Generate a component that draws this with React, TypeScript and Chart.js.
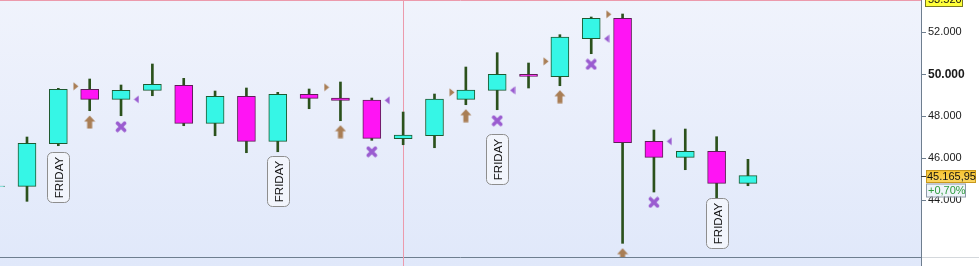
import React, { useEffect, useRef } from 'react';
import { Chart, registerables } from 'chart.js';

Chart.register(...registerables);

// ---- data ----
const candleIdx = [0, 1, 2, 3, 4, 5, 6, 7, 8, 9, 10, 11, 12, 13, 14, 15, 16, 17, 18, 19, 20, 21, 22, 23, 24];
const opens = [44650, 44653, 46685, 49280, 48803, 49233, 49471, 47658, 48947, 46800, 49042, 48865, 48770, 46924, 47067, 48803, 49233, 49996, 49882, 51695, 52668, 46800, 46036, 46323, 44796];
const highs = [44900, 47005, 49328, 49772, 49486, 50488, 49805, 49199, 49343, 49137, 49295, 49629, 48865, 48197, 49056, 50344, 51027, 50535, 51886, 52730, 52873, 47339, 47386, 47019, 45941];
const lows = [44400, 43937, 46590, 48260, 48021, 48975, 47544, 47067, 46256, 46303, 48355, 47782, 46847, 46637, 46494, 48546, 48307, 49343, 49452, 50979, 41933, 44381, 45445, 44100, 44681];
const closes = [44660, 46704, 49280, 48803, 49233, 49519, 47658, 48947, 46800, 49042, 48851, 48756, 46943, 47100, 48818, 49247, 49996, 49901, 51776, 52668, 46733, 46036, 46323, 44796, 45166];

const yTicks = [44000, 46000, 48000, 50000, 52000];

const arrowIdx = [3, 11, 15, 18, 20];
const arrowVal = [47720, 47258, 48021, 48927, 41390];
const crossIdx = [4, 12, 16, 19, 21];
const crossVal = [47496, 46303, 47782, 50473, 43889];
const rightTriIdx = [3, 11, 15, 18, 20];
const rightTriVal = [49424, 49376, 49137, 50616, 52859];
const leftTriIdx = [4, 12, 16, 19, 21];
const leftTriVal = [48803, 48756, 49233, 51695, 46800];

const fridayIdx = [2, 9, 16, 23];
const fridayTop = [46290, 46084, 47162, 44080];
const fridayText = 'FRIDAY';

const crossHairIdx = 13;
const crossHairVal = 53520;
const lastPrice = 45165.95;
const changeText = '+0,70%';

const xMin = 0.139;
const xMax = 29.52;
const yMin = 41281;
const yMax = 53541;

const FONT = '"Liberation Sans", Arial, sans-serif';

function fmtInt(v: number) {
  return Math.round(v).toString().replace(/\B(?=(\d{3})+(?!\d))/g, '.');
}
function fmtDec(v: number) {
  const [i, d] = v.toFixed(2).split('.');
  return i.replace(/\B(?=(\d{3})+(?!\d))/g, '.') + ',' + d;
}

function makeArrow() {
  const c = document.createElement('canvas');
  c.width = 12; c.height = 14;
  const g = c.getContext('2d')!;
  g.fillStyle = '#A97E55';
  g.beginPath();
  g.moveTo(6, 0.5); g.lineTo(11.5, 6.5); g.lineTo(8.5, 6.5); g.lineTo(8.5, 13.5);
  g.lineTo(3.5, 13.5); g.lineTo(3.5, 6.5); g.lineTo(0.5, 6.5); g.closePath();
  g.fill();
  return c;
}
function makeCross() {
  const c = document.createElement('canvas');
  c.width = 12; c.height = 12;
  const g = c.getContext('2d')!;
  g.strokeStyle = '#9A5CD0';
  g.lineWidth = 3.6;
  g.lineCap = 'round';
  g.beginPath();
  g.moveTo(2.5, 2.5); g.lineTo(9.5, 9.5);
  g.moveTo(9.5, 2.5); g.lineTo(2.5, 9.5);
  g.stroke();
  return c;
}
function makeTri(dir: 'left' | 'right', color: string) {
  const c = document.createElement('canvas');
  c.width = 6; c.height = 9;
  const g = c.getContext('2d')!;
  g.fillStyle = color;
  g.beginPath();
  if (dir === 'right') { g.moveTo(0.5, 0.5); g.lineTo(5.5, 4.5); g.lineTo(0.5, 8.5); }
  else { g.moveTo(5.5, 0.5); g.lineTo(0.5, 4.5); g.lineTo(5.5, 8.5); }
  g.closePath();
  g.fill();
  return c;
}

function roundRect(ctx: CanvasRenderingContext2D, x: number, y: number, w: number, h: number, r: number) {
  ctx.beginPath();
  ctx.moveTo(x + r, y);
  ctx.lineTo(x + w - r, y);
  ctx.arcTo(x + w, y, x + w, y + r, r);
  ctx.lineTo(x + w, y + h - r);
  ctx.arcTo(x + w, y + h, x + w - r, y + h, r);
  ctx.lineTo(x + r, y + h);
  ctx.arcTo(x, y + h, x, y + h - r, r);
  ctx.lineTo(x, y + r);
  ctx.arcTo(x, y, x + r, y, r);
  ctx.closePath();
}

const decor = {
  id: 'decor',
  beforeDraw(chart: any) {
    const { ctx, chartArea, width, height } = chart;
    ctx.save();
    ctx.fillStyle = '#ffffff';
    ctx.fillRect(0, 0, width, height);
    const grad = ctx.createLinearGradient(0, 0, 0, height);
    grad.addColorStop(0, '#F0F3FC');
    grad.addColorStop(1, '#E0E8FA');
    ctx.fillStyle = grad;
    ctx.fillRect(0, 0, chartArea.right, height);
    ctx.restore();
  },
  beforeDatasetsDraw(chart: any) {
    const { ctx, chartArea, width, height } = chart;
    const xs = chart.scales.x, ys = chart.scales.y;
    ctx.save();
    ctx.lineWidth = 1;
    ctx.strokeStyle = '#6E7E8F';
    ctx.beginPath();
    ctx.moveTo(0, chartArea.bottom + 0.5);
    ctx.lineTo(chartArea.right, chartArea.bottom + 0.5);
    ctx.stroke();
    ctx.strokeStyle = '#D4D8DC';
    ctx.beginPath();
    ctx.moveTo(chartArea.right, chartArea.bottom + 0.5);
    ctx.lineTo(width, chartArea.bottom + 0.5);
    ctx.stroke();
    ctx.strokeStyle = '#6E7E8F';
    ctx.beginPath();
    ctx.moveTo(chartArea.right + 0.5, 0);
    ctx.lineTo(chartArea.right + 0.5, height);
    ctx.stroke();
    ctx.strokeStyle = '#EC9AAC';
    const cx = Math.round(xs.getPixelForValue(crossHairIdx)) + 0.5;
    const cy = Math.round(ys.getPixelForValue(crossHairVal)) + 0.5;
    ctx.beginPath();
    ctx.moveTo(cx, 0); ctx.lineTo(cx, height);
    ctx.moveTo(0, cy); ctx.lineTo(chartArea.right, cy);
    ctx.stroke();
    ctx.restore();
  },
  afterDatasetsDraw(chart: any) {
    const { ctx } = chart;
    const xs = chart.scales.x, ys = chart.scales.y;
    ctx.save();
    fridayIdx.forEach((idx, k) => {
      const x = Math.round(xs.getPixelForValue(idx));
      const top = Math.round(ys.getPixelForValue(fridayTop[k]));
      const w = 22, h = 50;
      roundRect(ctx, x - 11 + 0.5, top + 0.5, w, h, 5);
      ctx.fillStyle = '#F2F5FC';
      ctx.fill();
      ctx.strokeStyle = '#8E8E8E';
      ctx.lineWidth = 1;
      ctx.stroke();
      ctx.save();
      ctx.translate(x + 0.5, top + h / 2 + 0.5);
      ctx.rotate(-Math.PI / 2);
      ctx.fillStyle = '#111111';
      ctx.font = '11.5px ' + FONT;
      ctx.textAlign = 'center';
      ctx.textBaseline = 'middle';
      ctx.fillText(fridayText, 0, 1);
      ctx.restore();
    });
    ctx.restore();
  },
  afterDraw(chart: any) {
    const { ctx, chartArea } = chart;
    const ys = chart.scales.y;
    const ax = chartArea.right;
    ctx.save();
    ctx.font = '11px ' + FONT;
    ctx.textBaseline = 'middle';
    ctx.textAlign = 'left';
    const cy = ys.getPixelForValue(crossHairVal);
    ctx.fillStyle = '#FFFF3A';
    ctx.fillRect(ax + 4.5, cy - 7, 37, 13);
    ctx.strokeStyle = '#7A7A20';
    ctx.strokeRect(ax + 4.5, Math.round(cy - 7) + 0.5, 37, 13);
    ctx.fillStyle = '#111';
    ctx.fillText(fmtInt(crossHairVal), ax + 7, cy);
    const py = ys.getPixelForValue(lastPrice);
    ctx.strokeStyle = '#3A3A3A';
    ctx.beginPath();
    ctx.moveTo(ax, Math.round(py) + 0.5); ctx.lineTo(ax + 5, Math.round(py) + 0.5);
    ctx.stroke();
    const top = Math.round(py - 5.5);
    const g = ctx.createLinearGradient(0, top, 0, top + 13);
    g.addColorStop(0, '#F6C12C');
    g.addColorStop(1, '#FBD867');
    ctx.fillStyle = g;
    ctx.fillRect(ax + 5, top, 50, 13);
    ctx.strokeStyle = '#C8981C';
    ctx.strokeRect(ax + 5.5, top + 0.5, 49, 12);
    ctx.fillStyle = '#111';
    ctx.fillText(fmtDec(lastPrice), ax + 6, top + 7);
    const ct = top + 13.5;
    ctx.fillStyle = '#EEF4FA';
    ctx.fillRect(ax + 5.5, ct, 39, 13);
    ctx.strokeStyle = '#8E9AA8';
    ctx.strokeRect(ax + 5.5, ct + 0.5, 39, 13);
    ctx.fillStyle = '#2E9C3C';
    ctx.fillText(changeText, ax + 7, ct + 7.5);
    ctx.restore();
  },
};

export default function App() {
  const ref = useRef<HTMLCanvasElement | null>(null);
  useEffect(() => {
    document.body.style.margin = '0';
    const canvas = ref.current!;
    const up = candleIdx.map((_, i) => closes[i] >= opens[i]);
    const arrowImg = makeArrow();
    const crossImg = makeCross();
    const rTri = makeTri('right', '#A97E55');
    const lTri = makeTri('left', '#9A5CD0');
    const chart = new Chart(canvas, {
      type: 'bar',
      data: {
        datasets: [
          {
            type: 'bar',
            label: 'wick',
            data: candleIdx.map((x, i) => ({ x, y: [lows[i], highs[i]] })) as any,
            backgroundColor: '#2B511C',
            borderWidth: 0,
            barThickness: 2,
            grouped: false,
            order: 3,
          } as any,
          {
            type: 'bar',
            label: 'body',
            data: candleIdx.map((x, i) => ({ x, y: [opens[i], closes[i]] })) as any,
            backgroundColor: up.map((u) => (u ? '#36F6E6' : '#FF14F4')),
            borderColor: up.map((u) => (u ? '#1E5A30' : '#5E1E58')),
            borderWidth: 1,
            borderSkipped: false,
            barThickness: 18,
            grouped: false,
            order: 2,
          } as any,
          {
            type: 'scatter',
            label: 'arrows',
            data: arrowIdx.map((x, k) => ({ x, y: arrowVal[k] })),
            pointStyle: arrowImg,
            order: 1,
          } as any,
          {
            type: 'scatter',
            label: 'crosses',
            data: crossIdx.map((x, k) => ({ x, y: crossVal[k] })),
            pointStyle: crossImg,
            order: 1,
          } as any,
          {
            type: 'scatter',
            label: 'rightTri',
            data: rightTriIdx.map((x, k) => ({ x: x - 0.44, y: rightTriVal[k] })),
            pointStyle: rTri,
            order: 1,
          } as any,
          {
            type: 'scatter',
            label: 'leftTri',
            data: leftTriIdx.map((x, k) => ({ x: x + 0.49, y: leftTriVal[k] })),
            pointStyle: lTri,
            order: 1,
          } as any,
        ],
      },
      options: {
        animation: false,
        responsive: false,
        devicePixelRatio: 1,
        events: [],
        layout: { autoPadding: false, padding: { top: 0, bottom: 9, left: 0, right: 0 } },
        plugins: { legend: { display: false }, tooltip: { enabled: false } },
        scales: {
          x: {
            type: 'linear',
            display: false,
            min: xMin,
            max: xMax,
            offset: false,
          },
          y: {
            type: 'linear',
            position: 'right',
            min: yMin,
            max: yMax,
            afterBuildTicks: (scale: any) => {
              scale.ticks = yTicks.map((v) => ({ value: v }));
            },
            afterFit: (scale: any) => {
              scale.width = 58;
              scale.paddingTop = 0;
              scale.paddingBottom = 0;
            },
            border: { display: true, color: '#6E7E8F' },
            grid: {
              display: true,
              drawOnChartArea: false,
              drawTicks: true,
              tickLength: 5,
              color: '#6E7E8F',
            },
            ticks: {
              padding: 2,
              color: '#1A1A1A',
              font: (c: any) =>
                c.tick && c.tick.value === 50000
                  ? { family: FONT, size: 12, weight: 'bold' }
                  : { family: FONT, size: 11 },
              callback: (v: any) => fmtInt(Number(v)),
            },
          },
        },
      },
      plugins: [decor],
    } as any);
    return () => chart.destroy();
  }, []);
  return <canvas ref={ref} width={979} height={266} style={{ display: 'block' }} />;
}
